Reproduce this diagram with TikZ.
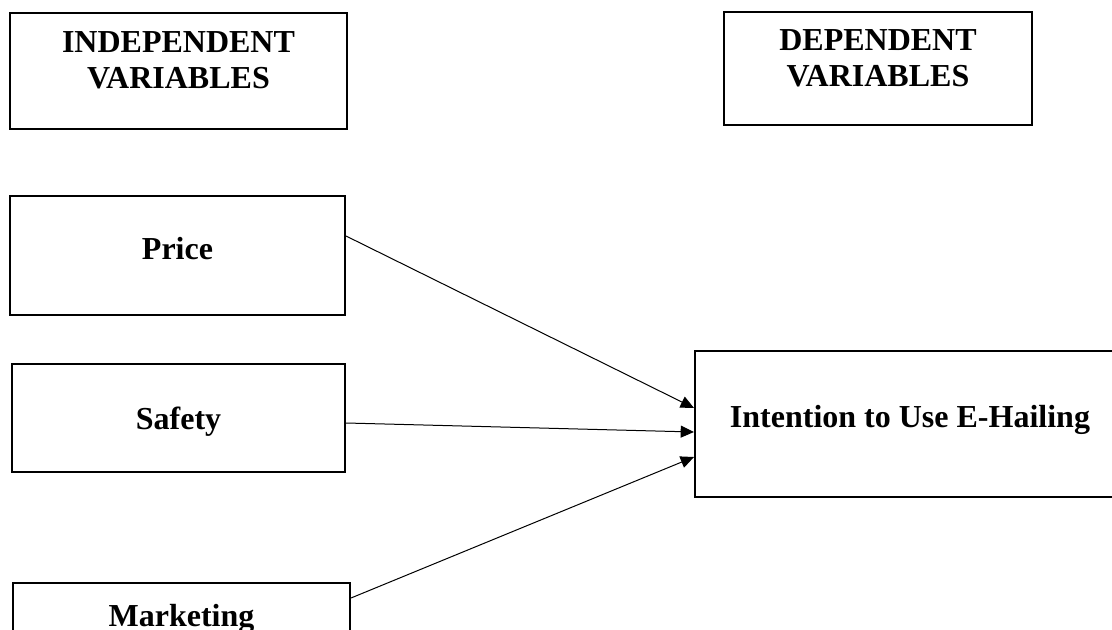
\documentclass[tikz,border=0pt]{standalone}
\usepackage{fontspec}
\setmainfont{Liberation Serif}
\usepackage{tikz}
\usetikzlibrary{arrows.meta}

\begin{document}
\begin{tikzpicture}[x=0.75pt,y=-0.75pt,
  varbox/.style={draw,line width=1.5pt,align=center,inner sep=0pt,
    font=\fontsize{24}{27}\selectfont\bfseries},
  link/.style={line width=0.75pt,-{Triangle[length=10pt,width=9pt]}}]
\useasboundingbox (0,0) rectangle (1112,630);
\clip (0,0) rectangle (1112,630);

\node[varbox,minimum width=252.75pt,minimum height=87pt,text depth=16pt] (indep) at (178.5,71) {INDEPENDENT\\VARIABLES};
\node[varbox,minimum width=231pt,minimum height=84.75pt,text depth=16pt] (dep) at (878,68.5) {DEPENDENT\\VARIABLES};

\node[varbox,minimum width=251.25pt,minimum height=89.25pt,text depth=11pt] (price) at (177.5,255.5) {Price};
\node[varbox,minimum width=249.75pt,minimum height=81pt,text height=23pt] (safety) at (178.5,418) {Safety};
\node[varbox,minimum width=252.75pt,anchor=north,inner ysep=16pt,text depth=60pt] (marketing) at (181.5,582) {Marketing};

\node[varbox,minimum width=322.5pt,minimum height=109.5pt,text depth=11pt] (intention) at (910,424) {Intention to Use E-Hailing};

\draw[link] (price.east |- 0,236) -- (intention.west |- 0,408);
\draw[link] (safety.east |- 0,423) -- (intention.west |- 0,432);
\draw[link] (marketing.east |- 0,598) -- (intention.west |- 0,457);
\end{tikzpicture}
\end{document}
